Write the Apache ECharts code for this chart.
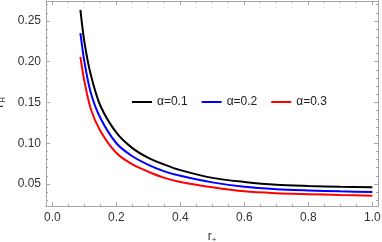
<!DOCTYPE html>
<html>
<head>
<meta charset="utf-8">
<script src="https://cdn.jsdelivr.net/npm/echarts@6/dist/echarts.min.js"></script>
<style>
  html, body { margin: 0; padding: 0; background: #fff; }
  #chart { width: 382px; height: 242px; }
</style>
</head>
<body>
<div id="chart"></div>
<script>
// r+ sample points
const rValues = [0.0875, 0.1, 0.12, 0.15, 0.2, 0.25, 0.3, 0.35, 0.4, 0.5, 0.6, 0.7, 0.8, 0.9, 1.0]
const tAlpha01 = [0.2635, 0.224, 0.184, 0.146, 0.113, 0.094, 0.082, 0.0738, 0.067, 0.0575, 0.0525, 0.049, 0.0475, 0.0465, 0.046]
const tAlpha02 = [0.235, 0.200, 0.162, 0.131, 0.100, 0.084, 0.0735, 0.0655, 0.060, 0.052, 0.0465, 0.0436, 0.0421, 0.041, 0.0402]
const tAlpha03 = [0.206, 0.176, 0.142, 0.115, 0.088, 0.074, 0.065, 0.0575, 0.0525, 0.046, 0.041, 0.0387, 0.0375, 0.0365, 0.0357]
const seriesNames = ['α=0.1', 'α=0.2', 'α=0.3']

// ticks
const xMajor = [0, 0.2, 0.4, 0.6, 0.8, 1.0]
const xMinor = [0.05, 0.1, 0.15, 0.25, 0.3, 0.35, 0.45, 0.5, 0.55, 0.65, 0.7, 0.75, 0.85, 0.9, 0.95]
const yMajor = [0.05, 0.1, 0.15, 0.2, 0.25]
const yMinor = [0.03, 0.04, 0.06, 0.07, 0.08, 0.09, 0.11, 0.12, 0.13, 0.14, 0.16, 0.17, 0.18, 0.19, 0.21, 0.22, 0.23, 0.24, 0.26, 0.27]

const frameColor = '#a6a6a6'
const labelColor = '#333'
const font = 'Liberation Sans, Arial, sans-serif'

const toPairs = vals => rValues.map((r, i) => [r, vals[i]])

const makeAxis = (pos, min, max, ticks, len, labels, fmt) => ({
  type: 'value',
  position: pos,
  min: min,
  max: max,
  axisLine: { show: true, onZero: false, lineStyle: { color: frameColor, width: 1 } },
  splitLine: { show: false },
  axisTick: { show: true, inside: true, length: len, customValues: ticks, lineStyle: { color: frameColor } },
  axisLabel: labels
    ? { show: true, customValues: ticks, formatter: fmt, color: labelColor, fontSize: 12, fontFamily: font, margin: 6 }
    : { show: false }
})

const chart = echarts.init(document.getElementById('chart'))

const xMin = -0.02, xMax = 1.0175
const yMin = 0.023, yMax = 0.2745

const xMain = makeAxis('bottom', xMin, xMax, xMajor, 4, true, v => v.toFixed(1))
xMain.name = '{t|r}{s|+}'
xMain.nameLocation = 'middle'
xMain.nameGap = 24
xMain.nameTextStyle = {
  color: labelColor,
  fontFamily: font,
  rich: {
    t: { fontSize: 12, lineHeight: 14, fontFamily: font, color: labelColor },
    s: { fontSize: 8, lineHeight: 8, fontFamily: font, color: labelColor, padding: [6, 0, 0, 0] }
  }
}

const yMain = makeAxis('left', yMin, yMax, yMajor, 4, true, v => v.toFixed(2))
yMain.axisLabel.margin = 5
yMain.name = '{t|T}{s|H}'
yMain.nameLocation = 'middle'
yMain.nameRotate = 90
yMain.nameGap = 37
yMain.nameTextStyle = {
  color: labelColor,
  fontFamily: font,
  rich: {
    t: { fontSize: 12, lineHeight: 14, fontFamily: font, color: labelColor },
    s: { fontSize: 8, lineHeight: 8, fontFamily: font, color: labelColor, padding: [6, 0, 0, 0] }
  }
}

const option = {
  backgroundColor: '#fff',
  animation: false,
  grid: { left: 46, right: 4, top: 1, bottom: 36, containLabel: false, outerBoundsMode: 'none' },
  legend: {
    left: 127,
    top: 91,
    icon: 'rect',
    itemWidth: 20,
    itemHeight: 2,
    itemGap: 14,
    textStyle: { color: '#222', fontSize: 12, fontFamily: font },
    data: seriesNames
  },
  xAxis: [
    xMain,
    makeAxis('bottom', xMin, xMax, xMinor, 2, false),
    makeAxis('top', xMin, xMax, xMajor, 4, false),
    makeAxis('top', xMin, xMax, xMinor, 2, false)
  ],
  yAxis: [
    yMain,
    makeAxis('left', yMin, yMax, yMinor, 2, false),
    makeAxis('right', yMin, yMax, yMajor, 4, false),
    makeAxis('right', yMin, yMax, yMinor, 2, false)
  ],
  series: [tAlpha01, tAlpha02, tAlpha03].map((vals, i) => ({
    name: seriesNames[i],
    type: 'line',
    xAxisIndex: 0,
    yAxisIndex: 0,
    smooth: 0.3,
    showSymbol: false,
    lineStyle: { width: 2, color: ['#000000', '#0000ff', '#ff0000'][i] },
    itemStyle: { color: ['#000000', '#0000ff', '#ff0000'][i] },
    data: toPairs(vals)
  }))
}

chart.setOption(option)
</script>
</body>
</html>
